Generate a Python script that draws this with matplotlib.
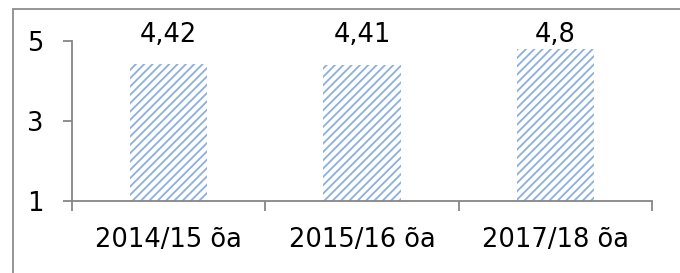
import matplotlib.pyplot as plt
import matplotlib.patches as patches

# Daten
categories = ["2014/15 õa", "2015/16 õa", "2017/18 õa"]
values = [4.42, 4.41, 4.8]
value_labels = ["4,42", "4,41", "4,8"]
y_ticks = [1, 3, 5]

plt.rcParams["font.family"] = ["DejaVu Sans"]
plt.rcParams["hatch.linewidth"] = 1.3
plt.rcParams["hatch.color"] = "#8cb0dd"

fig = plt.figure(figsize=(6.8, 2.73), dpi=100)
ax = fig.add_axes([72 / 680, 1 - 201 / 273, 580 / 680, 160 / 273])

x = range(len(categories))
ax.bar(x, values, width=0.4, bottom=0, color="white", hatch="////",
       edgecolor="#8cb0dd", linewidth=0)

for xi, lab in zip(x, value_labels):
    ax.text(xi, 5.15, lab, ha="center", va="center", fontsize=18.5, clip_on=False)

ax.set_ylim(1, 5)
ax.set_xlim(-0.5, len(categories) - 0.5)
ax.set_yticks(y_ticks)
ax.set_yticklabels([str(t) for t in y_ticks], fontsize=18.5)
ax.tick_params(axis="y", length=6.5, width=1.3, color="#868686", pad=14)

# Kategorie-Grenzen als Ticks, Beschriftung in der Mitte
ax.set_xticks([i - 0.5 for i in range(len(categories) + 1)])
ax.set_xticklabels([])
ax.set_xticks(list(x), minor=True)
ax.set_xticklabels(categories, minor=True, fontsize=18.5)
ax.tick_params(axis="x", which="major", length=7.5, width=1.3, color="#868686")
ax.tick_params(axis="x", which="minor", length=0, pad=19)

for side in ["top", "right"]:
    ax.spines[side].set_visible(False)
for side in ["left", "bottom"]:
    ax.spines[side].set_color("#868686")
    ax.spines[side].set_linewidth(1.3)

# Rahmen um das Diagramm
fig.patches.append(patches.Rectangle((13 / 680, -0.1), 1.2, 1.1 - 9 / 273,
                                     transform=fig.transFigure, fill=False,
                                     edgecolor="#8c8c8c", linewidth=1.3))

fig.savefig("out.png", dpi=100)
